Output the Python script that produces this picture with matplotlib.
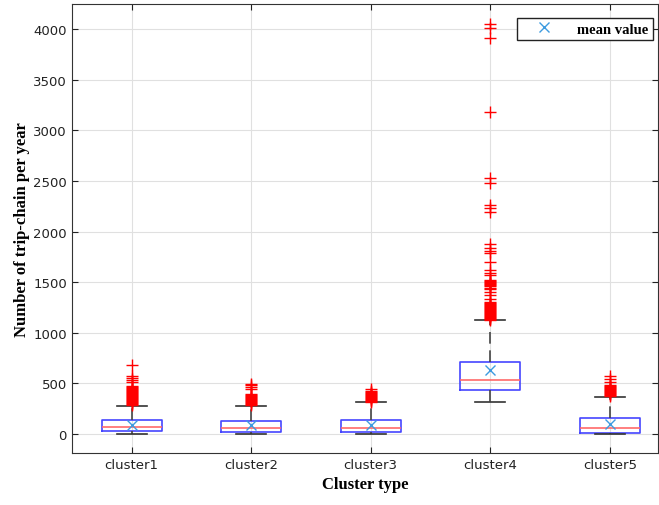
import matplotlib
matplotlib.use("Agg")
import matplotlib.pyplot as plt
from matplotlib.lines import Line2D

categories = ["cluster1", "cluster2", "cluster3", "cluster4", "cluster5"]
whislo = [0, 0, 0, 317, 0]
q1 = [27, 17, 17, 429, 10]
med = [66, 56, 59, 528, 56]
q3 = [132, 125, 139, 710, 155]
whishi = [274, 274, 314, 1122, 363]
means = [89, 85, 89, 627, 99]

fliers1 = [285, 295, 305, 315, 325, 335, 345, 355, 365, 375, 385, 395, 405, 415, 425, 435, 445, 455, 465, 475,
           510, 528, 551, 571, 680]
fliers2 = [280, 290, 300, 310, 320, 330, 340, 350, 360, 370, 380, 395, 445, 460, 478, 490]
fliers3 = [318, 325, 335, 345, 355, 365, 375, 385, 395, 405, 415, 425, 440]
fliers4 = [1125, 1135, 1145, 1155, 1165, 1175, 1185, 1195, 1205, 1215, 1225, 1235, 1245, 1255, 1265, 1275,
           1285, 1295, 1304, 1337, 1370, 1403, 1436, 1446, 1456, 1466, 1476, 1486, 1496, 1506, 1518,
           1567, 1591, 1617, 1700, 1792, 1809, 1832, 1881, 2195, 2228, 2260, 2475, 2530, 3185,
           3918, 4010, 4050]
fliers5 = [368, 378, 388, 398, 408, 418, 428, 438, 448, 458, 470, 478, 510, 545, 575]
fliers = [fliers1, fliers2, fliers3, fliers4, fliers5]

yticks = [0, 500, 1000, 1500, 2000, 2500, 3000, 3500, 4000]

fig = plt.figure(figsize=(6.59, 5.06), dpi=100)
ax = fig.add_axes([0.109, 0.103, 0.889, 0.887])

stats = []
for i in range(len(categories)):
    stats.append(dict(label=categories[i], whislo=whislo[i], q1=q1[i], med=med[i],
                      q3=q3[i], whishi=whishi[i], fliers=fliers[i], mean=means[i]))

pos = list(range(1, len(categories) + 1))
ax.bxp(stats, positions=pos, widths=0.5, capwidths=0.25, showmeans=False,
       boxprops=dict(color="#4545ff", linewidth=1.2),
       medianprops=dict(color="#ff6a6a", linewidth=1.2),
       whiskerprops=dict(color="#444444", linewidth=1.2, linestyle=(0, (7, 4))),
       capprops=dict(color="#333333", linewidth=1.2),
       flierprops=dict(marker="+", markeredgecolor="red", markersize=9, markeredgewidth=1.0, linestyle="none"),
       zorder=3)
ax.plot(pos, means, linestyle="none", marker="x", color="#3d9be0", markersize=6.5, markeredgewidth=1.0, zorder=4)

ax.set_xlim(0.5, 5.4)
ax.set_ylim(-190, 4250)
ax.set_yticks(yticks)
ax.set_xticks(pos)
ax.set_xticklabels(categories)
ax.tick_params(labelsize=9.5, colors="#222222", direction="in", length=4, top=True, right=True)
ax.grid(True, color="#e0e0e0", linewidth=0.8)
ax.set_axisbelow(True)
for s in ax.spines.values():
    s.set_color("#333333")

ax.set_xlabel("Cluster type", fontfamily="Liberation Serif", fontweight="bold", fontsize=12, labelpad=4)
ax.set_ylabel("Number of trip-chain per year", fontfamily="Liberation Serif", fontweight="bold", fontsize=12, labelpad=2)

h = Line2D([], [], linestyle="none", marker="x", color="#3d9be0", markersize=6.5)
leg = ax.legend([h], ["mean value"], loc="upper right", bbox_to_anchor=(0.9915, 0.969), fancybox=False, framealpha=1,
                edgecolor="#222222", prop=dict(family="Liberation Serif", weight="bold", size=10.5),
                borderpad=0.3, handlelength=3, borderaxespad=0.0)
leg.get_frame().set_linewidth(1.0)

fig.savefig("out.png", dpi=100)
